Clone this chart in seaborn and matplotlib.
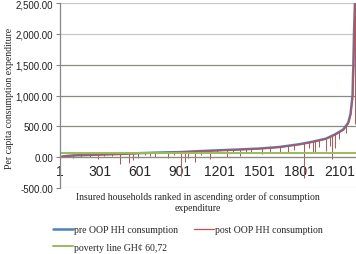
import matplotlib
matplotlib.use("Agg")
import matplotlib.pyplot as plt
import seaborn as sns
import pandas as pd

# pre OOP curve (ranked households)
pre_rank = [1, 30, 100, 301, 450, 601, 750, 901, 1050, 1201, 1350, 1501, 1650,
            1801, 1900, 2000, 2069, 2131, 2168, 2185, 2200, 2206, 2211, 2218, 2226]
pre_value = [0, 15, 28, 42, 52, 65, 75, 82, 98, 112, 125, 140, 165,
             210, 250, 300, 370, 450, 560, 700, 1000, 1500, 2000, 2500, 2900]

# post OOP curve, follows pre closely
post_rank = [1, 30, 100, 301, 450, 601, 750, 901, 1050, 1201, 1350, 1501, 1650,
             1801, 1900, 2000, 2069, 2131, 2168, 2185, 2200, 2208, 2214, 2220, 2226]
post_value = [0, 13, 26, 40, 50, 62, 72, 80, 95, 108, 122, 136, 160,
              205, 245, 295, 362, 440, 545, 680, 950, 1400, 1900, 2450, 2900]

# downward spikes of post OOP consumption
dip_rank = [24, 60, 100, 160, 230, 287, 330, 390, 450, 520, 550, 587, 640, 680,
            712, 810, 860, 911, 941, 966, 1016, 1060, 1129, 1180, 1254, 1300,
            1355, 1400, 1440, 1518, 1580, 1655, 1718, 1760, 1838, 1870, 1906,
            1918, 1950, 1998, 2031, 2048, 2069, 2100, 2150, 2222]
dip_top = [12, 20, 28, 32, 36, 40, 44, 48, 52, 58, 60, 63, 68, 70,
           73, 78, 80, 83, 86, 88, 95, 99, 105, 110, 116, 120,
           126, 130, 134, 142, 152, 165, 180, 195, 225, 240, 252,
           258, 272, 300, 330, 345, 370, 405, 500, 2700]
dip_bottom = [-5, 0, -8, 5, 10, -30, 15, 20, -110, -100, -50, -10, 30, 20,
              0, -20, 40, -300, -80, -20, -85, 40, -30, 60, 10, 60,
              20, 70, 80, 55, 80, 60, 80, 120, -330, 150, 60,
              80, 160, 105, 187, -30, 150, 300, 400, 540]

poverty_rank = [1, 2226]
poverty_value = [60.72, 60.72]

n_households = 2226
x_ticks = [1, 301, 601, 901, 1201, 1501, 1801, 2101]
y_ticks = [-500, 0, 500, 1000, 1500, 2000, 2500]

blue = "#4f81bd"
red = "#c0504d"
green = "#9bbb59"

sns.set_style("white")
plt.rcParams['font.family'] = ['Liberation Sans', 'DejaVu Sans']

fig = plt.figure(figsize=(3.56, 2.55), dpi=100)
ax = fig.add_axes([60 / 356, 1 - 189 / 255, 296 / 356, 185 / 255])

pre = pd.DataFrame({"rank": pre_rank, "value": pre_value})
post = pd.DataFrame({"rank": post_rank, "value": post_value})
pov = pd.DataFrame({"rank": poverty_rank, "value": poverty_value})

sns.lineplot(data=pre, x="rank", y="value", color=blue, linewidth=1.8, ax=ax,
             label="pre OOP HH consumption")
sns.lineplot(data=post, x="rank", y="value", color=red, linewidth=0.9, ax=ax,
             label="post OOP HH consumption")
ax.vlines(dip_rank, dip_bottom, dip_top, color=red, linewidth=0.7)
sns.lineplot(data=pov, x="rank", y="value", color=green, linewidth=1.4, ax=ax,
             label="poverty line GH\u00a2 60,72")

ax.set_xlim(1, n_households)
ax.set_ylim(-500, 2500)
ax.set_xticks(x_ticks)
ax.set_yticks(y_ticks)
ax.set_yticklabels([f"{v:,.2f}" for v in y_ticks], fontsize=7, color="#222222")
ax.set_xticklabels([str(v) for v in x_ticks], fontsize=7, color="#222222")
ax.tick_params(axis="x", length=0, pad=5)
ax.tick_params(axis="y", length=3, width=0.8, color="#868686", pad=2, left=True)

ax.yaxis.grid(True, linewidth=0.9)
for val, gl in zip(y_ticks, ax.get_ygridlines()):
    gl.set_color("#c8c8c8" if val in (-500, 2000, 2500) else "#8a8a80")
ax.set_axisbelow(True)

for side in ("top", "right"):
    ax.spines[side].set_visible(False)
ax.spines["bottom"].set_position(("data", 0))
ax.spines["bottom"].set_color("#8a8a80")
ax.spines["left"].set_color("#868686")
ax.spines["left"].set_linewidth(0.9)

ax.set_xlabel("")
ax.set_ylabel("")
serif = ['Liberation Serif', 'DejaVu Serif']
fig.text(10 / 356, 1 - 98 / 255, "Per capita consumption expenditure",
         rotation=90, ha="center", va="center", fontsize=7, family=serif)
fig.text(198 / 356, 1 - 203 / 255,
         "Insured households ranked in ascending order of consumption\nexpenditure",
         ha="center", va="center", fontsize=7, family=serif, linespacing=1.25)

handles, labels = ax.get_legend_handles_labels()
ax.get_legend().remove()
order = [0, 2, 1]
fig.legend([handles[i] for i in order], [labels[i] for i in order],
           ncol=2, loc="upper left", bbox_to_anchor=(53 / 356, 1 - 226 / 255),
           frameon=False, prop={"family": serif, "size": 7},
           handlelength=2.1, handletextpad=0.1, columnspacing=1.6,
           labelspacing=0.9, borderpad=0, borderaxespad=0)

fig.savefig("out.png", dpi=100)
